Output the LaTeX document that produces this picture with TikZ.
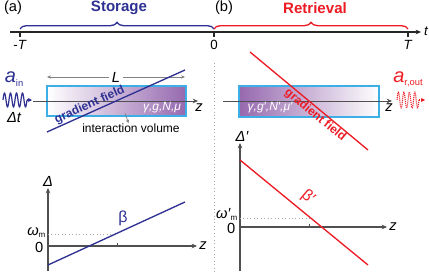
\documentclass[tikz,border=0pt]{standalone}
\usepackage{fontspec}
\setmainfont{Liberation Sans}
\usetikzlibrary{arrows.meta,decorations.pathreplacing}
\definecolor{sblue}{RGB}{46,49,146}
\definecolor{rred}{RGB}{237,28,36}
\definecolor{axgray}{RGB}{80,80,80}
\definecolor{boxblue}{RGB}{60,175,230}
\definecolor{purp}{RGB}{150,105,175}
\begin{document}
\begin{tikzpicture}[x=0.75pt,y=-0.75pt,
  axisline/.style={draw=axgray,line width=0.8pt,-{Stealth[length=4pt,width=3.5pt]}},
  ticklabel/.style={font=\fontsize{10}{10}\selectfont,text=black,inner sep=1pt},
  bracelbl/.style={font=\fontsize{11.3}{12}\selectfont\bfseries,inner sep=1pt},
  panellbl/.style={font=\fontsize{11}{12}\selectfont,inner sep=1pt},
  gradlbl/.style={font=\fontsize{9}{10}\selectfont\bfseries,inner sep=0.5pt},
  paramlbl/.style={font=\fontsize{9}{10}\selectfont\itshape,text=white,inner sep=1pt},
  cellbox/.style={draw=boxblue,line width=0.8pt},
  dotline/.style={draw=gray!70,dotted,line width=0.6pt},
  fieldline/.style={line width=1pt}]
\useasboundingbox (0,0) rectangle (429,272);

% panel labels
\node[panellbl] (pa) at (13,8) {(a)};
\node[panellbl] (pb) at (224,8) {(b)};
\node[bracelbl,text=sblue] (stor) at (119,8) {Storage};
\node[bracelbl,text=rred] (retr) at (315,8) {Retrieval};

% time line
\coordinate (ts) at (10,32);
\coordinate (te) at (421,32);
\draw[axisline,draw=black!85] (ts) -- (te);
\node[ticklabel,font=\fontsize{10}{10}\selectfont\itshape] (tl) at (426,31) {t};
\coordinate (tmT) at (20,32);
\coordinate (t0) at (214,32);
\coordinate (tT) at (408,32);
\foreach \c in {tmT,t0,tT}{\draw[black!85,line width=1.2pt] (\c) -- ++(0,5);}
\node[ticklabel] (lmT) at (20,45) {-\textit{T}};
\node[ticklabel] (l0) at (214,45) {0};
\node[ticklabel] (lT) at (408,45) {\textit{T}};
\draw[sblue,line width=1pt,decorate,decoration={brace,amplitude=5pt}] (20,29) -- (214,29);
\draw[rred,line width=1pt,decorate,decoration={brace,amplitude=5pt}] (214,29) -- (408,29);

% separator
\coordinate (sepT) at (214,63);
\coordinate (sepB) at (214,272);
\draw[dotline] (sepT) -- (sepB);

% ---------- left upper ----------
\coordinate (La) at (47,77);
\coordinate (Lb) at (185,77);
\draw[gray,line width=0.5pt,{Stealth[length=3pt,width=2.5pt]}-{Stealth[length=3pt,width=2.5pt]}] (La) -- node[fill=white,text=black,inner sep=2pt,font=\fontsize{11}{11}\selectfont\itshape] (Ll) {L} (Lb);
\shade[left color=white,right color=purp] (47,86) rectangle (186,116);
\draw[cellbox] (47,86) rectangle (186,116);
\coordinate (za1) at (33,101);
\coordinate (za2) at (198,101);
\draw[axisline,line width=0.6pt] (za1) -- (za2);
\node[ticklabel,font=\fontsize{11}{11}\selectfont\itshape] (zl1) at (199,108) {z};
\node[paramlbl] (par1) at (162,108) {γ,g,N,μ};
\coordinate (gf1a) at (47,132);
\coordinate (gf1b) at (185,70);
\draw[sblue,fieldline] (gf1a) -- node[pos=0.33,sloped,above,gradlbl,text=sblue] (gft1) {gradient field} (gf1b);
\node[font=\fontsize{9}{10}\selectfont,inner sep=1pt] (iv) at (131,128) {interaction volume};
\coordinate (iva) at (125,113);
\coordinate (ivb) at (128.5,123);
\draw[gray,line width=0.5pt,-{Stealth[length=2.5pt,width=2.5pt]}] (iva) -- (ivb);
\node[text=sblue,inner sep=0pt] (ain) at (14,79) {\fontsize{15}{15}\selectfont\textit{a}\raisebox{-2.5pt}{\fontsize{7}{7}\selectfont in}};
\draw[sblue,line width=0.9pt] plot[domain=0:24,samples=120,smooth] ({3+\x},{100-7*sin(\x*60)});
\coordinate (w1e) at (27,100);
\coordinate (w1t) at (32,100);
\draw[sblue,line width=0.9pt,-{Stealth[length=3pt,width=3pt]}] (w1e) -- (w1t);
\node[font=\fontsize{11}{11}\selectfont\itshape,inner sep=1pt] (dt) at (14,118) {Δt};

% ---------- right upper ----------
\shade[left color=purp,right color=white] (239,86) rectangle (379,117);
\draw[cellbox] (239,86) rectangle (379,117);
\coordinate (zb1) at (223,101);
\coordinate (zb2) at (392,101);
\draw[axisline,line width=0.6pt] (zb1) -- (zb2);
\node[ticklabel,font=\fontsize{11}{11}\selectfont\itshape] (zl2) at (389,108) {z};
\node[paramlbl] (par2) at (270,108) {γ,g′,N′,μ′};
\coordinate (gf2a) at (250,52);
\coordinate (gf2b) at (368,150);
\draw[rred,fieldline] (gf2a) -- node[pos=0.59,sloped,below,gradlbl,text=rred] (gft2) {gradient field} (gf2b);
\node[text=rred,inner sep=0pt] (aout) at (408,79) {\fontsize{15}{15}\selectfont\textit{a}\raisebox{-2.5pt}{\fontsize{7}{7}\selectfont r,out}};
\draw[rred,line width=0.8pt,dash pattern=on 0.8pt off 0.7pt] plot[domain=0:22,samples=150,smooth] ({397+\x},{100-8*sin(\x*65.5)});
\coordinate (w2e) at (419,100);
\coordinate (w2t) at (425,100);
\draw[rred,line width=0.8pt,dash pattern=on 0.8pt off 0.7pt,-{Stealth[length=3pt,width=3pt]}] (w2e) -- (w2t);

% ---------- left lower plot ----------
\coordinate (o1) at (48,246);
\coordinate (d1b) at (48,271);
\coordinate (d1t) at (48,188);
\coordinate (z1e) at (197,246);
\draw[axisline] (d1b) -- (d1t);
\draw[axisline] (o1) -- (z1e);
\node[font=\fontsize{11}{11}\selectfont\itshape,inner sep=1pt] (D1) at (48,181) {Δ};
\node[ticklabel,font=\fontsize{11}{11}\selectfont\itshape] (zl3) at (203,246) {z};
\node[ticklabel,font=\fontsize{11}{11}\selectfont,anchor=east] (zero1) at (45,247) {0};
\node[anchor=east,inner sep=1pt] (wm1) at (47,233) {\fontsize{11}{11}\selectfont\textit{ω}\raisebox{-1.5pt}{\fontsize{6}{6}\selectfont m}};
\coordinate (dm1a) at (48,234);
\coordinate (dm1b) at (113,234);
\draw[dotline] (dm1a) -- (dm1b);
\coordinate (tk1) at (117,246);
\draw[axgray,line width=0.6pt] (tk1) -- ++(0,-3);
\coordinate (b1a) at (48,265);
\coordinate (b1b) at (185,202);
\draw[sblue,fieldline] (b1a) -- (b1b);
\node[text=sblue,font=\fontsize{12}{12}\selectfont,inner sep=1pt] (beta) at (123,218) {β};

% ---------- right lower plot ----------
\coordinate (o2) at (240,227);
\coordinate (d2b) at (240,271);
\coordinate (d2t) at (240,143);
\coordinate (z2e) at (387,227);
\draw[axisline] (d2b) -- (d2t);
\draw[axisline] (o2) -- (z2e);
\node[font=\fontsize{11}{11}\selectfont\itshape,inner sep=1pt] (D2) at (242,136) {Δ′};
\node[ticklabel,font=\fontsize{11}{11}\selectfont\itshape] (zl4) at (393,227) {z};
\node[ticklabel,font=\fontsize{11}{11}\selectfont,anchor=east] (zero2) at (237,228) {0};
\node[anchor=east,inner sep=1pt] (wm2) at (239,214) {\fontsize{11}{11}\selectfont\textit{ω′}\raisebox{-1.5pt}{\fontsize{6}{6}\selectfont m}};
\coordinate (dm2a) at (240,218);
\coordinate (dm2b) at (310,218);
\draw[dotline] (dm2a) -- (dm2b);
\coordinate (tk2) at (309,227);
\draw[axgray,line width=0.6pt] (tk2) -- ++(0,-3);
\coordinate (b2a) at (240,160);
\coordinate (b2b) at (368,265);
\draw[rred,fieldline] (b2a) -- (b2b);
\node[text=rred,font=\fontsize{12}{12}\selectfont,inner sep=1pt,rotate=-40] (betap) at (308,197) {β′};
\end{tikzpicture}
\end{document}
